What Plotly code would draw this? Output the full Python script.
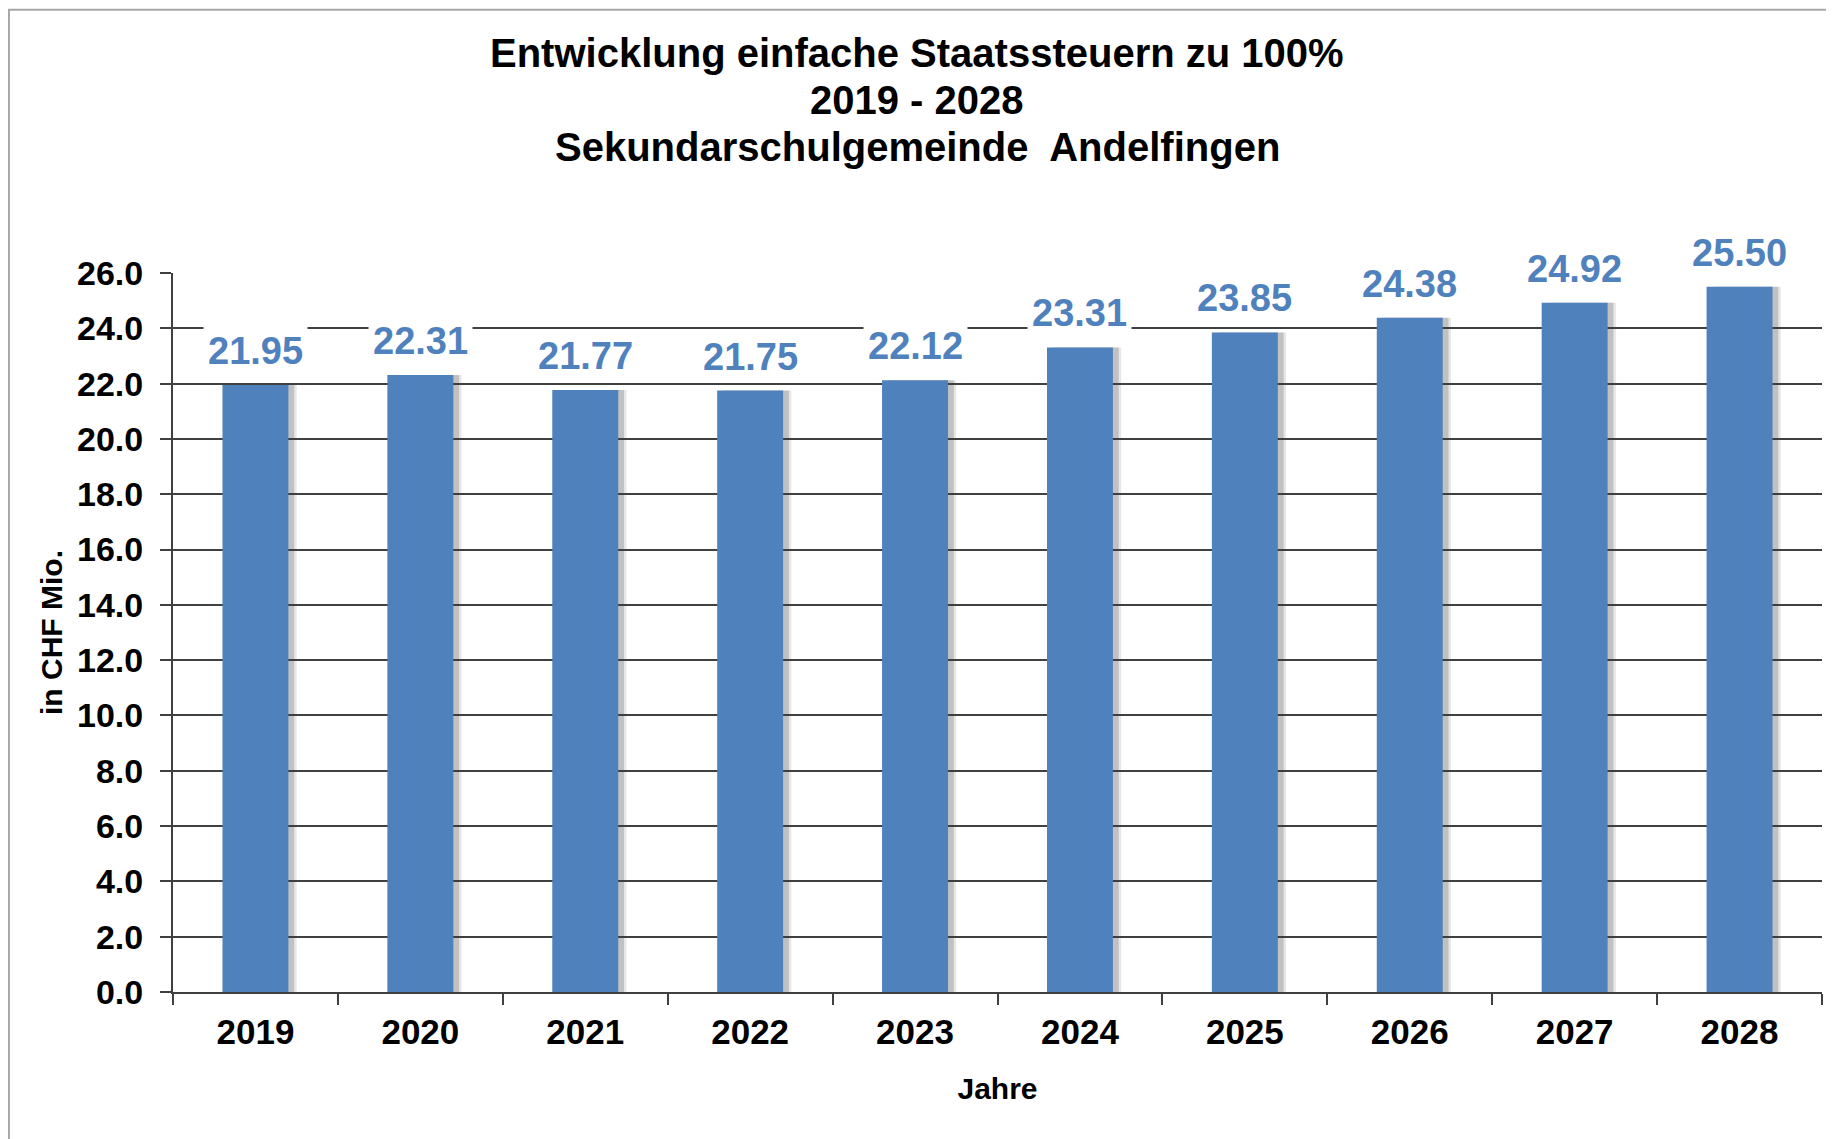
import plotly.graph_objects as go

jahre = ['2019', '2020', '2021', '2022', '2023', '2024', '2025', '2026', '2027', '2028']
steuern = [21.95, 22.31, 21.77, 21.75, 22.12, 23.31, 23.85, 24.38, 24.92, 25.50]
y_ticks = [0, 2, 4, 6, 8, 10, 12, 14, 16, 18, 20, 22, 24, 26]
titel_zeilen = [
    'Entwicklung einfache Staatssteuern zu 100%',
    '2019 - 2028',
    'Sekundarschulgemeinde  Andelfingen',
]

BLAU = '#4F81BD'
FONT = 'Liberation Sans, Arial, sans-serif'

fig = go.Figure()

# weicher Schatten rechts der Balken
for off, alpha in [(0.05, 0.12), (0.035, 0.22)]:
    fig.add_trace(go.Bar(
        x=jahre, y=steuern, width=0.4, offset=-0.2 + off,
        marker=dict(color=f'rgba(60,60,60,{alpha})', line_width=0),
        hoverinfo='skip', showlegend=False
    ))

fig.add_trace(go.Bar(
    x=jahre, y=steuern, width=0.4, offset=-0.2,
    marker=dict(color=BLAU, line_width=0),
    showlegend=False,
    hovertemplate='%{x}: %{y:.2f}<extra></extra>'
))

# Wertbeschriftungen mit weissem Hintergrund (unterbrechen die Gitterlinien)
for i, v in enumerate(steuern):
    fig.add_annotation(
        x=i, y=v, text=f'<b>{v:.2f}</b>', showarrow=False,
        yanchor='middle', yshift=34, bgcolor='white', borderpad=4,
        font=dict(family=FONT, size=38, color=BLAU)
    )

# Titel, dreizeilig (engerer Zeilenabstand als <br>)
for zeile, ty in zip(titel_zeilen, [1.306, 1.2406, 1.1752]):
    fig.add_annotation(
        x=0.4512, y=ty, xref='paper', yref='paper', showarrow=False,
        xanchor='center', yanchor='middle', text=f'<b>{zeile}</b>',
        font=dict(family=FONT, size=40, color='black')
    )

fig.update_layout(
    width=1826, height=1131,
    margin=dict(l=165, r=12, t=265, b=147),
    barmode='overlay',
    paper_bgcolor='white', plot_bgcolor='white',
    font=dict(family=FONT, color='black'),
    shapes=[dict(
        type='rect', xref='paper', yref='paper',
        x0=-0.0995, x1=1.5, y0=-1.0, y1=1.366,
        line=dict(color='#A6A6A6', width=2), fillcolor='rgba(0,0,0,0)', layer='below'
    )]
)

fig.update_xaxes(
    type='category', range=[-0.5, len(jahre) - 0.5],
    showline=True, linecolor='#404040', linewidth=2,
    ticks='outside', tickson='boundaries', ticklen=11, tickcolor='#404040', tickwidth=2,
    showgrid=False, tickangle=0,
    tickfont=dict(family=FONT, size=35, color='black'),
    tickprefix='<b>', ticksuffix='</b>',
    ticklabelstandoff=8,
    title=dict(text='<b>Jahre</b>', font=dict(family=FONT, size=30, color='black'), standoff=28)
)

fig.update_yaxes(
    range=[0, 26],
    tickvals=y_ticks, ticktext=[f'<b>{t:.1f}</b>' for t in y_ticks],
    showline=True, linecolor='#404040', linewidth=2,
    ticks='outside', ticklen=11, tickcolor='#404040', tickwidth=2,
    showgrid=True, gridcolor='#404040', gridwidth=2,
    zeroline=False,
    tickfont=dict(family=FONT, size=34, color='black'),
    ticklabelstandoff=10,
    title=dict(text='<b>in CHF Mio.</b>', font=dict(family=FONT, size=30, color='black'), standoff=6)
)

fig.write_html('out.html')
